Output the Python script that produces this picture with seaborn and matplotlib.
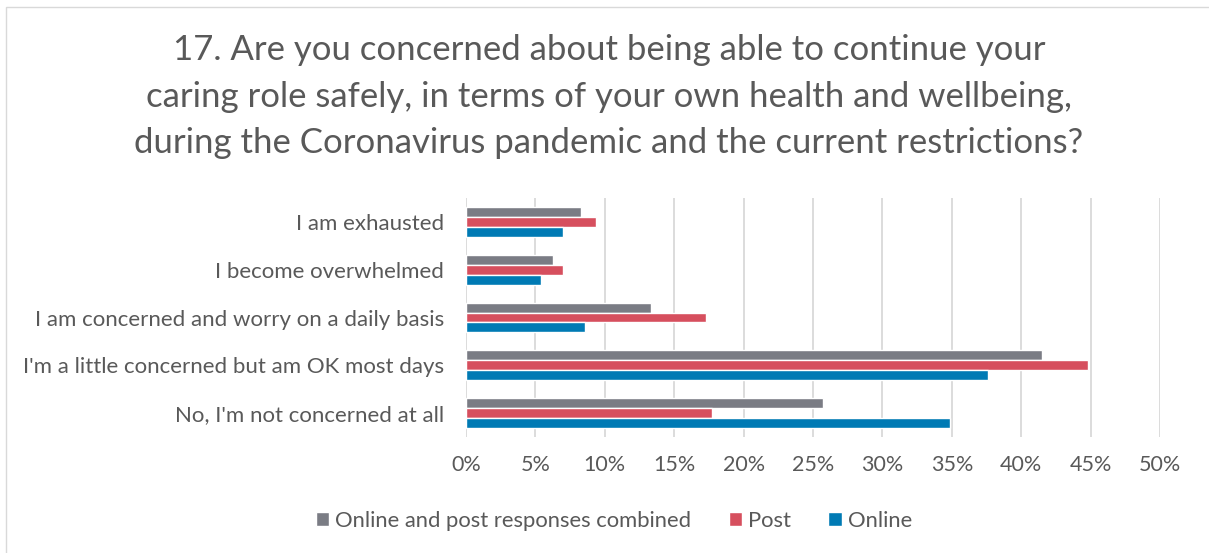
import pandas as pd
import matplotlib.pyplot as plt
import matplotlib.patches as mpatches
import seaborn as sns

# --- Data (in %) ---
RESPONSES = [
    "I am exhausted",
    "I become overwhelmed",
    "I am concerned and worry on a daily basis",
    "I'm a little concerned but am OK most days",
    "No, I'm not concerned at all",
]
COMBINED = [8.25, 6.3, 13.3, 41.5, 25.7]
POST = [9.4, 7.0, 17.3, 44.8, 17.7]
ONLINE = [7.0, 5.4, 8.6, 37.6, 34.9]

GROUPS = ["Online and post responses combined", "Post", "Online"]
COLORS = ["#7A7C84", "#D64F5E", "#007AB4"]
X_TICKS = [0, 5, 10, 15, 20, 25, 30, 35, 40, 45, 50]

TITLE_LINES = [
    "17. Are you concerned about being able to continue your",
    "caring role safely, in terms of your own health and wellbeing,",
    "during the Coronavirus pandemic and the current restrictions?",
]

TEXT_COLOR = "#595959"
GRID_COLOR = "#D9D9D9"


def build_frame():
    rows = []
    for group, values in zip(GROUPS, [COMBINED, POST, ONLINE]):
        for resp, v in zip(RESPONSES, values):
            rows.append({"response": resp, "group": group, "pct": v})
    return pd.DataFrame(rows)


def main():
    sns.set_theme(style="white")
    plt.rcParams["font.family"] = ["Lato", "DejaVu Sans"]

    df = build_frame()

    W, H = 1209, 553
    fig = plt.figure(figsize=(W / 100, H / 100), dpi=100)

    # chart border
    fig.patches.append(mpatches.Rectangle(
        (6 / W, -0.1), 1.2, 1.1 - 7 / H, transform=fig.transFigure,
        fill=False, edgecolor="#D9D9D9", linewidth=1.0))

    ax = fig.add_axes([466 / W, 1 - 437 / H, 694 / W, 239 / H])

    sns.barplot(
        data=df, y="response", x="pct", hue="group", orient="h",
        order=RESPONSES, hue_order=GROUPS, palette=COLORS,
        width=0.626, saturation=1, ax=ax, legend=True,
    )

    # --- Formatting ---
    ax.set_xlim(0, 50)
    ax.set_xticks(X_TICKS)
    ax.set_xticklabels([f"{t}%" for t in X_TICKS])
    ax.set_xlabel("")
    ax.set_ylabel("")
    ax.grid(axis="x", color=GRID_COLOR, linewidth=1.3)
    ax.grid(axis="y", visible=False)
    ax.set_axisbelow(True)
    for s in ax.spines.values():
        s.set_visible(False)
    ax.tick_params(axis="x", length=0, pad=13, labelsize=15.5, labelcolor=TEXT_COLOR)
    ax.tick_params(axis="y", length=0, pad=16, labelsize=16, labelcolor=TEXT_COLOR)

    # legend at the bottom
    handles, labels = ax.get_legend_handles_labels()
    ax.get_legend().remove()
    fig.legend(
        handles, labels, loc="center", bbox_to_anchor=(614 / W, 1 - 521 / H),
        ncol=3, frameon=False, fontsize=15.8, labelcolor=TEXT_COLOR,
        handlelength=0.6, handleheight=0.6, handletextpad=0.28,
        columnspacing=1.7,
    )

    # title, one line at a time
    for line, y in zip(TITLE_LINES, [50, 97, 143]):
        fig.text(609 / W, 1 - y / H, line, ha="center", va="center",
                 fontsize=25, color=TEXT_COLOR)

    fig.savefig("out.png", dpi=100)
    plt.close(fig)


if __name__ == "__main__":
    main()
